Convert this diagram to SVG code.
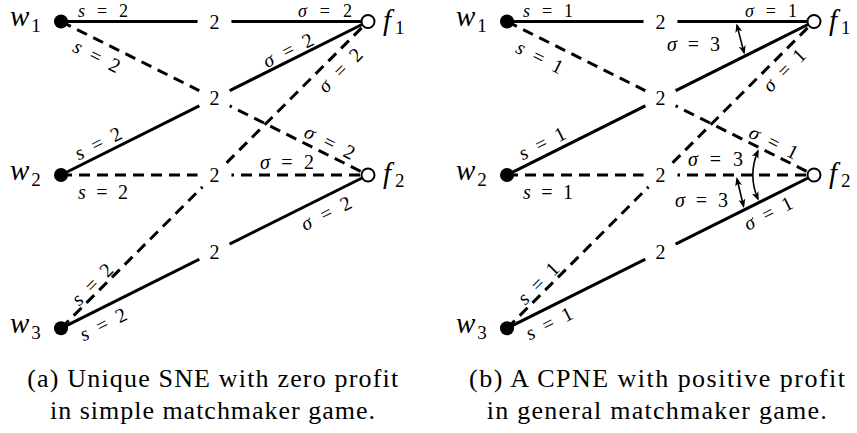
<svg xmlns="http://www.w3.org/2000/svg" width="857" height="433" viewBox="0 0 857 433">
  <style>
    .ln { stroke: #000; stroke-width: 3; fill: none; }
    .dash { stroke-dasharray: 11 7; }
    .arr { stroke: #000; stroke-width: 1.6; fill: none; marker-start: url(#tip); marker-end: url(#tip); }
    text { font-family: "Liberation Serif", "DejaVu Serif", serif; fill: #000; }
    .el { font-size: 20px; text-anchor: middle; }
    .top { font-size: 18px; }
    .i { font-style: italic; }
    .nl { font-size: 29px; }
    .sub { font-size: 19px; font-style: normal; }
    .mid { font-size: 20px; text-anchor: middle; }
    .cap { font-size: 26px; text-anchor: middle; }
    .worker { fill: #000; }
    .firm { fill: #fff; stroke: #000; stroke-width: 2; }
    .knock { fill: #fff; }
  </style>
  <defs>
    <marker id="tip" viewBox="0 0 9 7" refX="7" refY="3.5" markerWidth="9" markerHeight="7" markerUnits="userSpaceOnUse" orient="auto-start-reverse">
      <path d="M0,0 L9,3.5 L0,7 L2.5,3.5 z" fill="#000"/>
    </marker>
  </defs>

  <rect width="857" height="433" fill="#fff"/>

  <!-- ===== Panel (a): simple matchmaker game ===== -->
  <g id="panel-a">
    <g id="a-connectors">
      <line class="ln" x1="61" y1="21.5" x2="368" y2="21.5"/>
      <line class="ln dash" x1="61" y1="21.5" x2="368" y2="175"/>
      <line class="ln" x1="61" y1="175" x2="368" y2="21.5"/>
      <line class="ln dash" x1="61" y1="175" x2="368" y2="175"/>
      <line class="ln dash" x1="61" y1="328.3" x2="368" y2="21.5"/>
      <line class="ln" x1="61" y1="328.3" x2="368" y2="175"/>
    </g>

    <g id="a-m1"><circle class="knock" cx="214.5" cy="21.5" r="17"/><text class="mid" x="214.5" y="28.5">2</text></g>
    <g id="a-m2"><circle class="knock" cx="214.5" cy="98.25" r="17"/><text class="mid" x="214.5" y="105.25">2</text></g>
    <g id="a-m3"><circle class="knock" cx="214.5" cy="175" r="17"/><text class="mid" x="214.5" y="182">2</text></g>
    <g id="a-m4"><circle class="knock" cx="214.5" cy="251.65" r="17"/><text class="mid" x="214.5" y="258.65">2</text></g>

    <g id="a-w1"><circle class="worker" cx="61" cy="21.5" r="7"/><text class="nl" x="10" y="26"><tspan class="i">w</tspan><tspan class="sub" dx="2" dy="6">1</tspan></text></g>
    <g id="a-w2"><circle class="worker" cx="61" cy="175" r="7"/><text class="nl" x="10" y="179.5"><tspan class="i">w</tspan><tspan class="sub" dx="2" dy="6">2</tspan></text></g>
    <g id="a-w3"><circle class="worker" cx="61" cy="328.3" r="7"/><text class="nl" x="10" y="332.8"><tspan class="i">w</tspan><tspan class="sub" dx="2" dy="6">3</tspan></text></g>

    <g id="a-f1"><circle class="firm" cx="368" cy="21.5" r="6.5"/><text class="nl" x="383" y="29.5"><tspan class="i">f</tspan><tspan class="sub" dx="4" dy="4">1</tspan></text></g>
    <g id="a-f2"><circle class="firm" cx="368" cy="175" r="6.5"/><text class="nl" x="383" y="183"><tspan class="i">f</tspan><tspan class="sub" dx="4" dy="4">2</tspan></text></g>

    <g id="a-edge-labels" class="el">
      <text class="top" x="103" y="16.5" textLength="50"><tspan class="i">s</tspan> = 2</text>
      <text transform="translate(97 56) rotate(26.57)" y="7" textLength="50"><tspan class="i">s</tspan> = 2</text>
      <text transform="translate(98 143) rotate(-26.57)" y="7" textLength="50"><tspan class="i">s</tspan> = 2</text>
      <text transform="translate(103 191.5)" y="7" textLength="50"><tspan class="i">s</tspan> = 2</text>
      <text transform="translate(92 284) rotate(-45)" y="7" textLength="50"><tspan class="i">s</tspan> = 2</text>
      <text transform="translate(103 324) rotate(-26.57)" y="7" textLength="50"><tspan class="i">s</tspan> = 2</text>
      <text class="top" x="325" y="16.5" textLength="54"><tspan class="i">σ</tspan> = 2</text>
      <text transform="translate(288 50) rotate(-26.57)" y="7" textLength="54"><tspan class="i">σ</tspan> = 2</text>
      <text transform="translate(340 70) rotate(-45)" y="7" textLength="54"><tspan class="i">σ</tspan> = 2</text>
      <text transform="translate(330 142) rotate(26.57)" y="7" textLength="54"><tspan class="i">σ</tspan> = 2</text>
      <text transform="translate(287 161.5)" y="7" textLength="54"><tspan class="i">σ</tspan> = 2</text>
      <text transform="translate(326 213) rotate(-26.57)" y="7" textLength="54"><tspan class="i">σ</tspan> = 2</text>
    </g>

    <g id="a-caption" class="cap">
      <text x="212.7" y="387" textLength="371">(a) Unique SNE with zero profit</text>
      <text x="212.5" y="419" textLength="325">in simple matchmaker game.</text>
    </g>
  </g>

  <!-- ===== Panel (b): general matchmaker game ===== -->
  <g id="panel-b">
    <g id="b-connectors">
      <line class="ln" x1="507" y1="21.5" x2="814" y2="21.5"/>
      <line class="ln dash" x1="507" y1="21.5" x2="814" y2="175"/>
      <line class="ln" x1="507" y1="175" x2="814" y2="21.5"/>
      <line class="ln dash" x1="507" y1="175" x2="814" y2="175"/>
      <line class="ln dash" x1="507" y1="328.3" x2="814" y2="21.5"/>
      <line class="ln" x1="507" y1="328.3" x2="814" y2="175"/>
    </g>

    <g id="b-m1"><circle class="knock" cx="660.5" cy="21.5" r="17"/><text class="mid" x="660.5" y="28.5">2</text></g>
    <g id="b-m2"><circle class="knock" cx="660.5" cy="98.25" r="17"/><text class="mid" x="660.5" y="105.25">2</text></g>
    <g id="b-m3"><circle class="knock" cx="660.5" cy="175" r="17"/><text class="mid" x="660.5" y="182">2</text></g>
    <g id="b-m4"><circle class="knock" cx="660.5" cy="251.65" r="17"/><text class="mid" x="660.5" y="258.65">2</text></g>

    <g id="b-w1"><circle class="worker" cx="507" cy="21.5" r="7"/><text class="nl" x="456" y="26"><tspan class="i">w</tspan><tspan class="sub" dx="2" dy="6">1</tspan></text></g>
    <g id="b-w2"><circle class="worker" cx="507" cy="175" r="7"/><text class="nl" x="456" y="179.5"><tspan class="i">w</tspan><tspan class="sub" dx="2" dy="6">2</tspan></text></g>
    <g id="b-w3"><circle class="worker" cx="507" cy="328.3" r="7"/><text class="nl" x="456" y="332.8"><tspan class="i">w</tspan><tspan class="sub" dx="2" dy="6">3</tspan></text></g>

    <g id="b-f1"><circle class="firm" cx="814" cy="21.5" r="6.5"/><text class="nl" x="829" y="29.5"><tspan class="i">f</tspan><tspan class="sub" dx="4" dy="4">1</tspan></text></g>
    <g id="b-f2"><circle class="firm" cx="814" cy="175" r="6.5"/><text class="nl" x="829" y="183"><tspan class="i">f</tspan><tspan class="sub" dx="4" dy="4">2</tspan></text></g>

    <!-- profit-gap indicators between competing connectors -->
    <g id="b-gaps">
      <line class="arr" x1="737" y1="25.4" x2="744" y2="52.6"/>
      <line class="arr" x1="737" y1="179" x2="743.5" y2="206"/>
      <path class="arr" d="M757.9,151.1 A61,61 0 0 0 757.9,198.9"/>
    </g>

    <g id="b-edge-labels" class="el">
      <text class="top" x="548" y="16.5" textLength="50"><tspan class="i">s</tspan> = 1</text>
      <text transform="translate(540 57) rotate(26.57)" y="7" textLength="50"><tspan class="i">s</tspan> = 1</text>
      <text transform="translate(542 143) rotate(-26.57)" y="7" textLength="50"><tspan class="i">s</tspan> = 1</text>
      <text transform="translate(548 191.5)" y="7" textLength="50"><tspan class="i">s</tspan> = 1</text>
      <text transform="translate(538 283) rotate(-45)" y="7" textLength="50"><tspan class="i">s</tspan> = 1</text>
      <text transform="translate(549 323) rotate(-26.57)" y="7" textLength="50"><tspan class="i">s</tspan> = 1</text>
      <text class="top" x="771" y="16.5" textLength="52"><tspan class="i">σ</tspan> = 1</text>
      <text transform="translate(693.5 43.5)" y="7" textLength="53"><tspan class="i">σ</tspan> = 3</text>
      <text transform="translate(784 70) rotate(-45)" y="7" textLength="52"><tspan class="i">σ</tspan> = 1</text>
      <text transform="translate(774 142) rotate(26.57)" y="7" textLength="52"><tspan class="i">σ</tspan> = 1</text>
      <text transform="translate(715.5 158.5)" y="7" textLength="55"><tspan class="i">σ</tspan> = 3</text>
      <text transform="translate(701.5 200)" y="7" textLength="53"><tspan class="i">σ</tspan> = 3</text>
      <text transform="translate(768 213) rotate(-26.57)" y="7" textLength="52"><tspan class="i">σ</tspan> = 1</text>
    </g>

    <g id="b-caption" class="cap">
      <text x="657" y="387" textLength="376">(b) A CPNE with positive profit</text>
      <text x="656.7" y="419" textLength="340">in general matchmaker game.</text>
    </g>
  </g>
</svg>
